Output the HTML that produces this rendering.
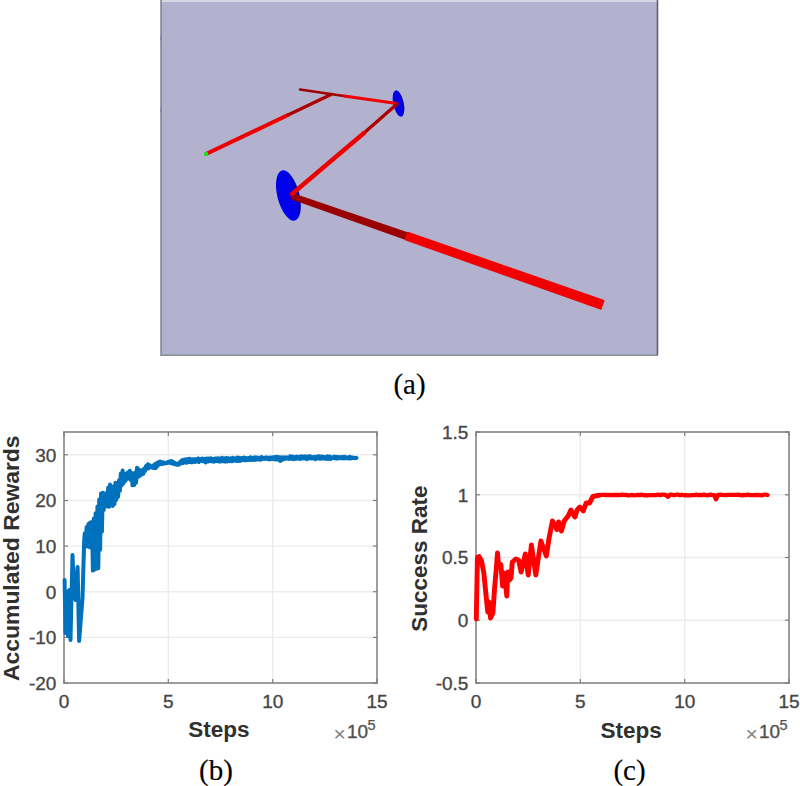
<!DOCTYPE html>
<html><head><meta charset="utf-8"><style>
html,body{margin:0;padding:0;background:#fff;width:800px;height:786px;overflow:hidden}
svg{display:block}
</style></head><body>
<svg width="800" height="786" viewBox="0 0 800 786">
<defs><style>
.grid{stroke:#ececec;stroke-width:1.4}
.ax{fill:none;stroke:#999;stroke-width:1.9}
.tick{stroke:#777;stroke-width:1.1}
.tl{font-family:"Liberation Sans",sans-serif;font-size:19px;fill:#474747;stroke:#474747;stroke-width:0.35px}
.al{font-family:"Liberation Sans",sans-serif;font-size:22.5px;font-weight:bold;fill:#303030}
.cap{font-family:"Liberation Serif",serif;font-size:29px;fill:#000;stroke:#000;stroke-width:0.15px}
</style><linearGradient id="bg1" x1="0" y1="0" x2="1" y2="0"><stop offset="0" stop-color="#0000e8"/><stop offset="0.55" stop-color="#0000f0"/><stop offset="1" stop-color="#0000b8"/></linearGradient></defs>
<rect width="800" height="786" fill="#fff"/>
<rect x="160.5" y="0" width="497.5" height="356" fill="#b2b2cf"/>
<rect x="161" y="0" width="497" height="2" fill="#d6d6e4"/>
<line x1="161.1" y1="0" x2="161.1" y2="356" stroke="#858592" stroke-width="1.5"/>
<line x1="161" y1="355.2" x2="658" y2="355.2" stroke="#8c8c9a" stroke-width="1.6"/>
<rect x="160.4" y="35.5" width="1.6" height="5" fill="#7a86aa"/>
<rect x="160.4" y="107.5" width="1.6" height="5" fill="#7a86aa"/>
<line x1="657.5" y1="0" x2="657.5" y2="355" stroke="#5e5e70" stroke-width="1.6"/>
<g stroke-linecap="round">
<ellipse cx="398.5" cy="103.5" rx="5.3" ry="13.4" transform="rotate(-12 398.5 103.5)" fill="url(#bg1)"/>
<ellipse cx="288.4" cy="195.5" rx="11" ry="25.8" transform="rotate(-14.4 288.4 195.5)" fill="url(#bg1)"/>
<line x1="206" y1="154" x2="288" y2="115" stroke="#ee0000" stroke-width="4"/>
<line x1="288" y1="115" x2="331" y2="94.5" stroke="#aa0000" stroke-width="3.2"/>
<line x1="300" y1="89.5" x2="344" y2="96" stroke="#a00000" stroke-width="2.6"/>
<line x1="344" y1="96" x2="397" y2="103.5" stroke="#f00000" stroke-width="2.8"/>
<line x1="397" y1="104" x2="364" y2="133" stroke="#aa0000" stroke-width="3.3"/>
<polygon points="290.4,199.1 405.7,239.9 408.3,232.5 292.6,192.9" fill="#9a0000" />
<polygon points="405.2,239.7 601.0,309.1 604.0,300.5 407.8,232.3" fill="#f00000" stroke="#f00000" stroke-width="1.2" stroke-linejoin="round"/>
<line x1="364" y1="133" x2="292" y2="194" stroke="#ee0000" stroke-width="4.4"/>
<circle cx="206" cy="154" r="2.2" fill="#22dd22"/>
</g>
<text x="409.5" y="393.5" text-anchor="middle" class="cap">(a)</text>
<line x1="168.3" y1="432" x2="168.3" y2="683" class="grid"/>
<line x1="272.7" y1="432" x2="272.7" y2="683" class="grid"/>
<line x1="64" y1="683.0" x2="377" y2="683.0" class="grid"/>
<line x1="64" y1="637.4" x2="377" y2="637.4" class="grid"/>
<line x1="64" y1="591.7" x2="377" y2="591.7" class="grid"/>
<line x1="64" y1="546.1" x2="377" y2="546.1" class="grid"/>
<line x1="64" y1="500.5" x2="377" y2="500.5" class="grid"/>
<line x1="64" y1="454.8" x2="377" y2="454.8" class="grid"/>
<line x1="580.3" y1="432" x2="580.3" y2="683" class="grid"/>
<line x1="684.7" y1="432" x2="684.7" y2="683" class="grid"/>
<line x1="476" y1="683.0" x2="789" y2="683.0" class="grid"/>
<line x1="476" y1="620.2" x2="789" y2="620.2" class="grid"/>
<line x1="476" y1="557.5" x2="789" y2="557.5" class="grid"/>
<line x1="476" y1="494.8" x2="789" y2="494.8" class="grid"/>
<line x1="476" y1="432.0" x2="789" y2="432.0" class="grid"/>
<rect x="64" y="432" width="313" height="251" class="ax"/>
<line x1="64.0" y1="683" x2="64.0" y2="679" class="tick"/>
<line x1="64.0" y1="432" x2="64.0" y2="436" class="tick"/>
<line x1="168.3" y1="683" x2="168.3" y2="679" class="tick"/>
<line x1="168.3" y1="432" x2="168.3" y2="436" class="tick"/>
<line x1="272.7" y1="683" x2="272.7" y2="679" class="tick"/>
<line x1="272.7" y1="432" x2="272.7" y2="436" class="tick"/>
<line x1="377.0" y1="683" x2="377.0" y2="679" class="tick"/>
<line x1="377.0" y1="432" x2="377.0" y2="436" class="tick"/>
<line x1="64" y1="683.0" x2="68" y2="683.0" class="tick"/>
<line x1="377" y1="683.0" x2="373" y2="683.0" class="tick"/>
<line x1="64" y1="637.4" x2="68" y2="637.4" class="tick"/>
<line x1="377" y1="637.4" x2="373" y2="637.4" class="tick"/>
<line x1="64" y1="591.7" x2="68" y2="591.7" class="tick"/>
<line x1="377" y1="591.7" x2="373" y2="591.7" class="tick"/>
<line x1="64" y1="546.1" x2="68" y2="546.1" class="tick"/>
<line x1="377" y1="546.1" x2="373" y2="546.1" class="tick"/>
<line x1="64" y1="500.5" x2="68" y2="500.5" class="tick"/>
<line x1="377" y1="500.5" x2="373" y2="500.5" class="tick"/>
<line x1="64" y1="454.8" x2="68" y2="454.8" class="tick"/>
<line x1="377" y1="454.8" x2="373" y2="454.8" class="tick"/>
<rect x="476" y="432" width="313" height="251" class="ax"/>
<line x1="476.0" y1="683" x2="476.0" y2="679" class="tick"/>
<line x1="476.0" y1="432" x2="476.0" y2="436" class="tick"/>
<line x1="580.3" y1="683" x2="580.3" y2="679" class="tick"/>
<line x1="580.3" y1="432" x2="580.3" y2="436" class="tick"/>
<line x1="684.7" y1="683" x2="684.7" y2="679" class="tick"/>
<line x1="684.7" y1="432" x2="684.7" y2="436" class="tick"/>
<line x1="789.0" y1="683" x2="789.0" y2="679" class="tick"/>
<line x1="789.0" y1="432" x2="789.0" y2="436" class="tick"/>
<line x1="476" y1="683.0" x2="480" y2="683.0" class="tick"/>
<line x1="789" y1="683.0" x2="785" y2="683.0" class="tick"/>
<line x1="476" y1="620.2" x2="480" y2="620.2" class="tick"/>
<line x1="789" y1="620.2" x2="785" y2="620.2" class="tick"/>
<line x1="476" y1="557.5" x2="480" y2="557.5" class="tick"/>
<line x1="789" y1="557.5" x2="785" y2="557.5" class="tick"/>
<line x1="476" y1="494.8" x2="480" y2="494.8" class="tick"/>
<line x1="789" y1="494.8" x2="785" y2="494.8" class="tick"/>
<line x1="476" y1="432.0" x2="480" y2="432.0" class="tick"/>
<line x1="789" y1="432.0" x2="785" y2="432.0" class="tick"/>
<polyline points="64.6,580.0 65.5,633.0 67.0,592.0 68.0,636.0 69.2,590.0 70.5,640.0 71.5,596.0 72.5,555.0 74.0,588.0 75.5,600.0 77.6,567.0 79.1,641.0 82.5,598.0 84.2,540.0 84.8,533.2 85.7,546.5 86.6,527.1 87.5,546.4 88.4,524.0 89.3,546.9 90.2,522.6 91.1,547.8 92.0,522.0 92.9,570.6 93.8,518.5 94.7,569.5 95.6,513.2 96.5,568.7 97.4,506.6 98.3,568.3 99.2,499.5 100.1,549.8 101.0,493.6 101.9,531.6 102.8,492.7 103.7,510.2 104.6,495.1 105.5,504.2 106.4,492.9 107.3,506.4 108.2,487.6 109.1,506.7 110.0,484.6 110.9,503.4 111.8,487.9 112.7,505.9 113.6,486.2 114.5,504.0 115.4,482.8 116.3,499.9 117.2,483.9 118.1,497.0 119.0,480.3 119.9,490.8 120.8,473.4 121.7,485.5 122.6,470.5 123.5,483.4 124.4,474.8 125.3,481.1 126.2,473.5 127.1,479.1 128.0,472.2 128.9,477.3 129.8,470.8 130.7,480.0 131.6,473.1 132.5,485.3 133.4,475.7 134.3,484.9 135.2,472.4 136.1,482.7 137.0,467.7 137.9,476.9 138.8,469.3 139.7,476.1 140.6,471.9 141.5,474.5 142.4,470.0 143.3,473.8 144.2,468.6 145.1,470.9 146.0,465.9 146.9,468.7 147.8,464.3 148.7,468.4 149.6,465.1 150.5,466.9 151.4,466.8 152.3,467.6 153.2,465.7 154.1,468.0 155.0,464.1 155.9,468.0 156.8,463.0 157.7,465.8 158.6,462.1 159.5,464.0 160.4,461.6 161.3,464.1 162.2,462.4 163.1,463.9 164.0,462.4 164.9,463.2 165.8,463.3 166.7,463.3 167.6,462.1 168.5,462.7 169.4,461.5 170.3,462.8 171.2,461.1 172.1,463.5 173.0,461.7 173.9,463.9 174.8,462.9 175.7,464.3 176.6,463.5 177.5,464.9 178.4,463.6 179.3,464.3 180.2,461.8 181.1,463.3 182.0,460.4 182.9,463.0 183.8,459.9 184.7,462.4 185.6,459.4 186.5,462.8 187.4,459.2 188.3,462.1 189.2,458.7 190.1,462.0 191.0,459.3 191.9,462.4 192.8,459.2 193.7,461.9 194.6,459.2 195.5,461.9 196.4,459.2 197.3,461.4 198.2,458.5 199.1,462.0 200.0,459.1 201.1,460.9 202.2,458.6 203.3,461.3 204.4,458.8 205.5,462.5 206.6,458.5 207.7,461.5 208.8,458.5 209.9,461.2 211.0,458.4 212.1,461.4 213.2,458.8 214.3,461.7 215.4,458.5 216.5,461.0 217.6,458.2 218.7,461.5 219.8,458.6 220.9,461.5 222.0,457.9 223.1,461.3 224.2,458.4 225.3,461.7 226.4,458.0 227.5,461.4 228.6,458.4 229.7,461.2 230.8,458.4 231.9,461.3 233.0,457.8 234.1,460.7 235.2,458.3 236.3,460.8 237.4,457.6 238.5,461.0 239.6,457.9 240.7,460.8 241.8,458.1 242.9,460.0 244.0,457.5 245.1,460.4 246.2,458.1 247.3,459.9 248.4,458.0 249.5,460.1 250.6,457.3 251.7,460.0 252.8,457.9 253.9,459.9 255.0,457.4 256.1,459.7 257.2,457.5 258.3,459.5 259.4,457.9 260.5,459.7 261.6,457.0 262.7,458.9 263.8,457.8 264.9,458.8 266.0,457.3 267.1,458.8 268.2,457.7 269.3,459.5 270.4,457.5 271.5,458.9 272.6,457.4 273.7,459.2 274.8,457.0 275.9,459.3 277.0,456.9 278.1,459.6 279.2,457.2 280.3,461.0 281.4,457.4 282.5,459.6 283.6,457.4 284.7,458.9 285.8,457.4 286.9,458.6 288.0,457.3 289.1,458.9 290.2,456.4 291.3,458.7 292.4,456.5 293.5,459.2 294.6,457.0 295.7,458.9 296.8,456.7 297.9,458.5 299.0,456.8 300.1,459.0 301.2,456.4 302.3,458.5 303.4,456.6 304.5,458.5 305.6,456.4 306.7,459.1 307.8,456.6 308.9,458.4 310.0,456.2 311.1,458.4 312.2,457.0 313.3,458.4 314.4,456.9 315.5,459.2 316.6,456.8 317.7,458.3 318.8,456.2 319.9,458.8 321.0,456.5 322.1,458.6 323.2,456.7 324.3,458.6 325.4,457.1 326.5,459.0 327.6,456.4 328.7,458.9 329.8,456.5 330.9,458.9 332.0,457.4 333.1,458.1 334.2,456.6 335.3,458.4 336.4,456.9 337.5,458.6 338.6,457.0 339.7,458.2 340.8,457.2 341.9,458.4 343.0,456.9 344.1,458.4 345.2,456.9 346.3,458.2 347.4,457.5 348.5,458.3 349.6,456.9 350.7,458.5 351.8,457.3 352.9,458.1 354.0,457.7 355.1,458.2 356.2,457.8 356.5,458.0" fill="none" stroke="#0072bd" stroke-width="4" stroke-linejoin="round" stroke-linecap="round"/>
<polyline points="476.3,619.0 477.4,557.2 479.2,556.6 481.4,560.6 483.7,572.0 486.5,600.0 487.8,612.0 489.0,602.0 490.5,618.0 492.9,613.2 494.6,588.0 496.3,568.6 497.5,553.0 498.6,566.3 500.9,564.6 502.6,586.0 504.3,573.2 506.8,596.0 507.8,572.0 509.5,580.0 511.0,578.0 512.3,562.0 515.8,559.0 518.6,560.0 521.1,572.0 525.3,554.0 528.2,575.0 531.4,545.0 535.8,575.0 540.9,541.0 546.3,556.0 549.1,538.0 552.4,521.0 556.9,529.5 558.6,522.0 561.4,531.0 564.2,521.0 568.1,516.0 570.9,510.0 574.9,517.0 577.1,510.0 579.9,507.0 583.3,511.0 586.1,503.0 589.5,503.0 592.9,496.5 598.5,495.3" fill="none" stroke="#ff0000" stroke-width="4.9" stroke-linejoin="round" stroke-linecap="round"/>
<polyline points="592.9,496.5 598.5,495.3 600.0,495.1 602.0,494.9 604.0,494.9 606.0,495.0 608.0,495.2 610.0,494.9 612.0,495.2 614.0,495.0 616.0,494.8 618.0,495.0 620.0,495.2 622.0,494.7 624.0,494.9 626.0,494.9 628.0,495.3 630.0,495.3 632.0,494.9 634.0,495.3 636.0,495.2 638.0,494.8 640.0,495.0 642.0,494.7 644.0,495.3 646.0,495.1 648.0,495.3 650.0,495.2 652.0,495.1 654.0,495.2 656.0,495.1 658.0,494.7 660.0,495.1 662.0,494.6 664.0,494.7 666.0,495.2 668.0,496.8 670.0,494.7 672.0,494.7 674.0,495.3 676.0,494.7 678.0,494.6 680.0,495.3 682.0,494.7 684.0,495.3 686.0,495.1 688.0,495.3 690.0,495.4 692.0,495.1 694.0,495.2 696.0,494.6 698.0,495.2 700.0,495.0 702.0,495.2 704.0,494.7 706.0,495.2 708.0,495.3 710.0,494.6 712.0,494.9 714.0,495.1 716.0,499.3 718.0,494.8 720.0,494.7 722.0,494.8 724.0,495.1 726.0,495.2 728.0,494.9 730.0,494.9 732.0,494.9 734.0,494.9 736.0,494.9 738.0,494.7 740.0,495.0 742.0,495.4 744.0,494.9 746.0,495.2 748.0,494.7 750.0,495.2 752.0,495.2 754.0,495.1 756.0,495.0 758.0,495.0 760.0,495.1 762.0,495.3 764.0,494.7 766.0,494.7 767.5,495.0" fill="none" stroke="#ff0000" stroke-width="4.3" stroke-linejoin="round" stroke-linecap="round"/>
<text x="56.4" y="689.8" text-anchor="end" class="tl">-20</text>
<text x="56.4" y="644.2" text-anchor="end" class="tl">-10</text>
<text x="56.4" y="598.5" text-anchor="end" class="tl">0</text>
<text x="56.4" y="552.9" text-anchor="end" class="tl">10</text>
<text x="56.4" y="507.3" text-anchor="end" class="tl">20</text>
<text x="56.4" y="461.6" text-anchor="end" class="tl">30</text>
<text x="468.4" y="689.8" text-anchor="end" class="tl">-0.5</text>
<text x="468.4" y="627.0" text-anchor="end" class="tl">0</text>
<text x="468.4" y="564.3" text-anchor="end" class="tl">0.5</text>
<text x="468.4" y="501.6" text-anchor="end" class="tl">1</text>
<text x="468.4" y="438.8" text-anchor="end" class="tl">1.5</text>
<text x="64.0" y="707.8" text-anchor="middle" class="tl">0</text>
<text x="476.0" y="707.8" text-anchor="middle" class="tl">0</text>
<text x="168.3" y="707.8" text-anchor="middle" class="tl">5</text>
<text x="580.3" y="707.8" text-anchor="middle" class="tl">5</text>
<text x="272.7" y="707.8" text-anchor="middle" class="tl">10</text>
<text x="684.7" y="707.8" text-anchor="middle" class="tl">10</text>
<text x="377.0" y="707.8" text-anchor="middle" class="tl">15</text>
<text x="789.0" y="707.8" text-anchor="middle" class="tl">15</text>
<text x="219" y="737.3" text-anchor="middle" class="al">Steps</text>
<text x="631.2" y="737.5" text-anchor="middle" class="al">Steps</text>
<text transform="translate(19.3 558.2) rotate(-90)" text-anchor="middle" class="al" style="font-size:22.9px">Accumulated Rewards</text>
<text transform="translate(427.2 558.7) rotate(-90)" text-anchor="middle" class="al">Success Rate</text>
<text x="333.5" y="741" class="tl" style="font-size:21px;fill:#808080;stroke:none">×</text>
<text x="347" y="738.4" class="tl" style="fill:#505050;stroke:#505050">10</text>
<text x="367.5" y="729.8" class="tl" style="font-size:14.5px;fill:#505050;stroke:#505050;stroke-width:0.25px">5</text>
<text x="745.5" y="741" class="tl" style="font-size:21px;fill:#808080;stroke:none">×</text>
<text x="759" y="738.4" class="tl" style="fill:#505050;stroke:#505050">10</text>
<text x="779.5" y="729.8" class="tl" style="font-size:14.5px;fill:#505050;stroke:#505050;stroke-width:0.25px">5</text>
<text x="216" y="780" text-anchor="middle" class="cap">(b)</text>
<text x="629.5" y="780" text-anchor="middle" class="cap">(c)</text>
</svg>
</body></html>
